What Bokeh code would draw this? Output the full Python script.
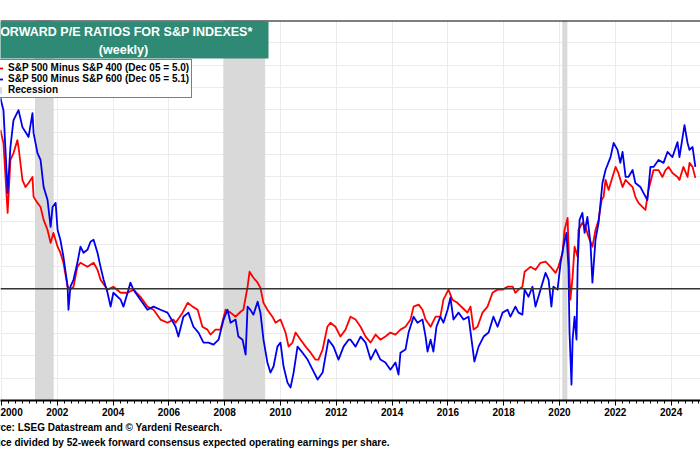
from bokeh.plotting import figure
from bokeh.models import (Range1d, SingleIntervalTicker, Span, BoxAnnotation, Label,
                          Legend, LegendItem, Grid, Title)
from bokeh.embed import file_html
from bokeh.resources import INLINE

# ---- data (decimal year, forward P/E difference) ----
red_pairs = [
    (1999.96, 7.10), (2000.07, 6.52), (2000.22, 3.39), (2000.32, 5.76), (2000.43, 6.07), (2000.57, 6.65), (2000.61, 6.34), (2000.75, 4.87), (2000.86, 4.55), (2000.97, 4.73),
    (2001.11, 5.00), (2001.15, 4.11), (2001.29, 3.84), (2001.40, 3.66), (2001.51, 3.08), (2001.65, 2.63), (2001.76, 2.05), (2001.86, 2.50),
    (2002.01, 1.88), (2002.11, 1.61), (2002.22, 1.16), (2002.37, 0.09), (2002.47, -0.04), (2002.58, 0.09), (2002.72, 0.98), (2002.83, 1.16),
    (2003.08, 0.98), (2003.30, 1.16), (2003.44, 0.85), (2003.55, 0.40), (2003.80, -0.04),
    (2004.01, 0.09), (2004.27, -0.18), (2004.52, -0.18), (2004.73, -0.04), (2004.98, -0.36),
    (2005.23, -0.80), (2005.45, -0.94), (2005.70, -1.38), (2005.95, -1.52),
    (2006.16, -1.38), (2006.24, -1.52), (2006.49, -1.07), (2006.67, -0.63), (2006.85, -0.80),
    (2007.03, -0.94), (2007.20, -1.70), (2007.38, -1.83), (2007.49, -2.05), (2007.67, -1.83), (2007.85, -1.83),
    (2008.03, -0.94), (2008.21, -1.07), (2008.39, -1.25), (2008.57, -1.03), (2008.67, -0.94), (2008.82, 0.09), (2008.89, 0.76),
    (2009.03, 0.49), (2009.18, 0.27), (2009.28, 0.04), (2009.39, -0.63), (2009.53, -0.94), (2009.71, -1.25), (2009.82, -1.52),
    (2010.00, -1.38), (2010.18, -1.96), (2010.29, -2.59), (2010.43, -2.41), (2010.54, -1.96), (2010.72, -2.28), (2010.90, -2.59),
    (2011.08, -2.86), (2011.25, -3.17), (2011.36, -3.17), (2011.51, -2.72), (2011.68, -1.70), (2011.79, -1.52), (2011.97, -1.70),
    (2012.15, -2.14), (2012.33, -1.83), (2012.44, -1.47), (2012.51, -1.25), (2012.69, -1.38), (2012.87, -1.70),
    (2013.05, -2.14), (2013.23, -2.41), (2013.41, -2.05), (2013.58, -2.28), (2013.76, -2.14), (2013.94, -1.96),
    (2014.12, -2.05), (2014.30, -1.83), (2014.48, -1.70), (2014.66, -1.38), (2014.77, -0.80), (2014.95, -0.71),
    (2015.09, -0.94), (2015.20, -1.38), (2015.38, -1.70), (2015.56, -1.25), (2015.73, -1.25), (2015.84, -0.49),
    (2016.02, -0.04), (2016.16, -0.49), (2016.34, -0.63), (2016.52, -0.85), (2016.70, -1.07), (2016.81, -0.80), (2016.92, -1.83),
    (2017.06, -1.70), (2017.24, -1.07), (2017.42, -0.80), (2017.60, -0.18), (2017.78, -0.04), (2017.96, -0.04),
    (2018.14, 0.09), (2018.32, 0.09), (2018.42, -0.18), (2018.53, -0.04), (2018.67, 0.09), (2018.75, 0.76), (2018.96, 0.98),
    (2019.14, 0.85), (2019.32, 1.16), (2019.50, 1.21), (2019.68, 0.98), (2019.86, 0.71), (2019.96, 0.98),
    (2020.11, 1.61), (2020.18, 2.63), (2020.29, 3.17), (2020.32, 2.05), (2020.39, -0.49), (2020.47, 0.54), (2020.54, 1.88), (2020.65, 1.43), (2020.68, 2.63), (2020.82, 2.95), (2020.93, 2.77),
    (2021.04, 2.32), (2021.18, 1.88), (2021.29, 2.63), (2021.40, 3.08), (2021.51, 3.97), (2021.58, 4.11), (2021.65, 4.87), (2021.76, 4.42), (2021.90, 5.00),
    (2022.01, 5.45), (2022.11, 5.18), (2022.26, 4.55), (2022.37, 4.87), (2022.47, 4.73), (2022.62, 4.55), (2022.72, 4.11), (2022.83, 3.84), (2022.97, 3.66),
    (2023.08, 3.53), (2023.19, 4.42), (2023.37, 5.31), (2023.55, 5.31), (2023.69, 5.00), (2023.80, 5.31), (2023.91, 5.45),
    (2024.05, 5.18), (2024.23, 5.00), (2024.30, 4.87), (2024.44, 5.45), (2024.59, 5.00), (2024.66, 5.63), (2024.77, 5.45), (2024.87, 4.96),
]

blue_pairs = [
    (1999.96, 8.53), (2000.07, 7.99), (2000.22, 4.29), (2000.32, 6.34), (2000.43, 7.54), (2000.61, 7.99), (2000.75, 7.23), (2000.86, 7.01), (2000.97, 6.79),
    (2001.11, 7.86), (2001.15, 6.96), (2001.29, 6.07), (2001.40, 5.76), (2001.51, 4.55), (2001.65, 3.97), (2001.76, 2.77), (2001.83, 3.66), (2001.94, 3.84),
    (2002.01, 2.63), (2002.11, 2.19), (2002.22, 1.43), (2002.37, 0.09), (2002.40, -0.94), (2002.47, 0.09), (2002.58, 0.40), (2002.72, 1.16), (2002.83, 1.88), (2002.94, 1.61),
    (2003.08, 1.74), (2003.19, 2.10), (2003.30, 2.19), (2003.44, 1.61), (2003.55, 0.98), (2003.66, 0.40), (2003.80, -0.18), (2003.91, -0.80),
    (2004.01, -0.18), (2004.27, -0.49), (2004.37, -0.80), (2004.52, -0.18), (2004.62, 0.27), (2004.73, -0.04), (2004.98, -0.49),
    (2005.23, -0.94), (2005.45, -0.80), (2005.70, -0.94), (2005.95, -1.07),
    (2006.16, -1.52), (2006.24, -1.70), (2006.34, -2.14), (2006.52, -1.25), (2006.70, -1.07), (2006.88, -1.70),
    (2007.06, -1.96), (2007.24, -2.41), (2007.42, -2.41), (2007.60, -2.50), (2007.78, -2.28), (2007.96, -1.38),
    (2008.10, -0.94), (2008.21, -1.52), (2008.39, -1.38), (2008.49, -2.14), (2008.64, -2.28), (2008.75, -2.95), (2008.82, -0.80), (2008.92, -0.94),
    (2009.03, -1.16), (2009.18, -0.58), (2009.28, -1.07), (2009.39, -2.28), (2009.53, -3.30), (2009.64, -3.75), (2009.75, -3.48), (2009.89, -2.59),
    (2010.00, -2.41), (2010.11, -3.48), (2010.25, -4.20), (2010.36, -4.42), (2010.47, -3.75), (2010.61, -2.59), (2010.79, -2.86), (2010.97, -3.17),
    (2011.15, -3.62), (2011.33, -4.06), (2011.51, -3.75), (2011.61, -3.04), (2011.72, -2.28), (2011.90, -2.59),
    (2012.08, -3.17), (2012.26, -2.59), (2012.44, -2.28), (2012.51, -2.28), (2012.69, -2.59), (2012.87, -2.14),
    (2013.05, -2.41), (2013.23, -3.17), (2013.41, -2.72), (2013.58, -3.17), (2013.76, -3.30), (2013.94, -3.62),
    (2014.12, -3.30), (2014.23, -3.84), (2014.30, -2.86), (2014.48, -2.72), (2014.59, -1.96), (2014.77, -1.25), (2014.91, -1.52),
    (2015.09, -1.38), (2015.20, -2.14), (2015.27, -2.81), (2015.38, -2.28), (2015.48, -2.81), (2015.59, -1.70), (2015.73, -1.25), (2015.84, -1.52), (2015.99, -0.94),
    (2016.09, -0.40), (2016.20, -1.38), (2016.38, -1.07), (2016.56, -1.38), (2016.74, -1.25), (2016.88, -2.59), (2016.95, -3.26),
    (2017.10, -2.59), (2017.28, -2.14), (2017.46, -1.96), (2017.63, -1.25), (2017.78, -1.70), (2017.96, -1.07),
    (2018.14, -0.94), (2018.24, -1.25), (2018.42, -0.80), (2018.53, -1.07), (2018.67, -1.16), (2018.75, -0.04), (2018.89, -0.36),
    (2019.03, 0.09), (2019.14, -0.80), (2019.32, -0.04), (2019.50, 0.71), (2019.61, 0.40), (2019.71, -0.80), (2019.78, 0.09), (2019.93, -0.04),
    (2020.04, 1.16), (2020.14, 1.88), (2020.25, 2.50), (2020.32, 0.98), (2020.36, -1.96), (2020.43, -4.29), (2020.47, -2.28), (2020.54, -1.25), (2020.61, -2.28), (2020.65, 0.98), (2020.72, 3.08), (2020.82, 3.39), (2020.90, 2.50),
    (2021.00, 3.21), (2021.11, 2.05), (2021.18, 0.27), (2021.29, 2.19), (2021.40, 2.95), (2021.54, 4.73), (2021.65, 5.31), (2021.83, 5.89), (2021.94, 6.52),
    (2022.08, 6.21), (2022.18, 5.63), (2022.26, 6.12), (2022.37, 5.00), (2022.47, 5.00), (2022.62, 5.31), (2022.72, 4.73), (2022.90, 4.55),
    (2023.01, 4.29), (2023.15, 3.97), (2023.26, 5.45), (2023.37, 5.45), (2023.55, 5.76), (2023.73, 5.63), (2023.87, 6.12),
    (2024.05, 5.89), (2024.23, 6.56), (2024.30, 5.89), (2024.48, 7.32), (2024.59, 6.52), (2024.66, 6.21), (2024.77, 6.34), (2024.87, 5.45),
]

red_dates = [d for d, _ in red_pairs]
red_values = [v for _, v in red_pairs]
blue_dates = [d for d, _ in blue_pairs]
blue_values = [v for _, v in blue_pairs]

recession_start = [2001.20, 2007.95, 2020.10]
recession_end = [2001.87, 2009.45, 2020.28]

red_label = "S&P 500 Minus S&P 400 (Dec 05 = 5.0)"
blue_label = "S&P 500 Minus S&P 600 (Dec 05 = 5.1)"
rec_label = "Recession"
title_line1 = "FORWARD P/E RATIOS FOR S&P INDEXES*"
title_line2 = "(weekly)"
source_text = "Source: LSEG Datastream and \u00a9 Yardeni Research."
note_text = "* Price divided by 52-week forward consensus expected operating earnings per share."

# ---- layout ----
Y_MIN, Y_MAX = -5, 12
X_MIN, X_MAX = 1999.964, 2025.054
W, H = 700, 450
TOP, BOTTOM = 20, 50
FW, FH = W, H - TOP - BOTTOM
FONT = "Liberation Sans"


def cx(px):
    return X_MIN + px * (X_MAX - X_MIN) / FW


def cy(py):
    return Y_MAX - (py - TOP) * (Y_MAX - Y_MIN) / FH


p = figure(width=W, height=H, output_backend="svg", toolbar_location=None,
           x_range=Range1d(X_MIN, X_MAX), y_range=Range1d(Y_MIN, Y_MAX),
           y_axis_location=None, min_border_left=0, min_border_right=0,
           min_border_top=TOP, min_border_bottom=BOTTOM,
           outline_line_color=None, background_fill_color="white",
           border_fill_color="white")

ticker = SingleIntervalTicker(interval=2, num_minor_ticks=8)
p.xaxis.ticker = ticker
p.xgrid.ticker = ticker
p.xgrid.grid_line_color = "#ebebeb"
p.add_layout(Grid(dimension=1, ticker=SingleIntervalTicker(interval=1),
                  grid_line_color="#ebebeb"))

ax = p.xaxis[0]
ax.axis_line_color = "black"
ax.axis_line_width = 2
ax.major_tick_line_color = "black"
ax.major_tick_in = 0
ax.major_tick_out = 5
ax.minor_tick_line_color = "black"
ax.minor_tick_in = 0
ax.minor_tick_out = 3
ax.major_label_standoff = 2
ax.major_label_text_font = FONT
ax.major_label_text_font_style = "bold"
ax.major_label_text_font_size = "10px"
ax.major_label_text_color = "black"

rec = p.quad(left=recession_start, right=recession_end, bottom=Y_MIN, top=Y_MAX,
             fill_color="#d9d9d9", line_color=None)

p.add_layout(Span(location=0, dimension="width", line_color="#333333", line_width=1.6))
p.add_layout(Span(location=Y_MAX, dimension="width", line_color="black", line_width=2))

r_red = p.line(red_dates, red_values, line_color="#ff0000", line_width=1.8, line_join="round")
r_blue = p.line(blue_dates, blue_values, line_color="#0000ee", line_width=1.8, line_join="round")

# title box
p.add_layout(BoxAnnotation(left=cx(-20), right=cx(268), top=cy(21), bottom=cy(58),
                           fill_color="#2e8a74", fill_alpha=1.0, line_color=None))
p.add_layout(Label(x=cx(122), y=cy(31), text=title_line1, text_align="center",
                   text_baseline="middle", text_color="white", text_font=FONT,
                   text_font_style="bold", text_font_size="12.5px"))
p.add_layout(Label(x=cx(123), y=cy(49), text=title_line2, text_align="center",
                   text_baseline="middle", text_color="white", text_font=FONT,
                   text_font_style="bold", text_font_size="12.5px"))

legend = Legend(items=[LegendItem(label=red_label, renderers=[r_red]),
                       LegendItem(label=blue_label, renderers=[r_blue]),
                       LegendItem(label=rec_label, renderers=[rec])],
                location=(-14, 302), orientation="vertical",
                border_line_color="black", border_line_width=1,
                background_fill_color="white", background_fill_alpha=1.0,
                padding=2, spacing=0, margin=0, glyph_width=14, glyph_height=8,
                label_standoff=5, label_height=11,
                label_text_font=FONT, label_text_font_style="bold",
                label_text_font_size="10px", label_text_color="black")
p.add_layout(legend)

# footer notes (below the axis)
p.add_layout(Title(text=source_text, align="left", offset=-22.8, standoff=2,
                   text_font=FONT, text_font_style="bold", text_font_size="10px",
                   text_color="black"), "below")
p.add_layout(Title(text=note_text, align="left", offset=-20, standoff=2,
                   text_font=FONT, text_font_style="bold", text_font_size="10px",
                   text_color="black"), "below")

open("out.html", "w").write(file_html(p, INLINE))
